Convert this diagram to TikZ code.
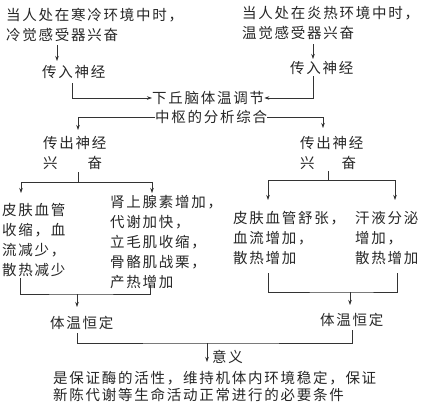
\documentclass[tikz,border=0pt]{standalone}
\usepackage{fontspec}
\newfontfamily\cjk[LetterSpace=12]{Noto Sans CJK SC}
\usetikzlibrary{arrows.meta}
\begin{document}
\begin{tikzpicture}[x=1pt,y=-1pt,
  txt/.style={inner sep=0pt, font=\cjk\fontsize{14.5}{20}\selectfont, text=black!85, align=left},
  ln/.style={draw=black!80, line width=0.6pt},
  arr/.style={ln, -{Stealth[length=5pt,width=3.5pt]}}]
\useasboundingbox (0,0) rectangle (423,402);
% texts
\node[txt,anchor=north west] (coldsrc) at (6,8) {当人处在寒冷环境中时，\\冷觉感受器兴奋};
\node[txt,anchor=north west] (hotsrc) at (242,6) {当人处在炎热环境中时，\\温觉感受器兴奋};
\node[txt,anchor=west] (inL) at (42,72) {传入神经};
\node[txt,anchor=west] (inR) at (290,68) {传入神经};
\node[txt,anchor=west] (hyp1) at (152,98) {下丘脑体温调节};
\node[txt,anchor=west] (hyp2) at (155,117) {中枢的分析综合};
\node[txt,anchor=north west] (outL) at (43,136) {传出神经\\兴\hspace{30pt}奋};
\node[txt,anchor=north west] (outR) at (300,136) {传出神经\\兴\hspace{27pt}奋};
\node[txt,anchor=north west] (boxL) at (2,203) {皮肤血管\\收缩，血\\流减少，\\散热减少};
\node[txt,anchor=north west] (boxM) at (110,195) {肾上腺素增加，\\代谢加快，\\立毛肌收缩，\\骨骼肌战栗，\\产热增加};
\node[txt,anchor=north west] (boxR1) at (233,211) {皮肤血管舒张，\\血流增加，\\散热增加};
\node[txt,anchor=north west] (boxR2) at (355,211) {汗液分泌\\增加，\\散热增加};
\node[txt,anchor=west] (constL) at (50,323) {体温恒定};
\node[txt,anchor=west] (constR) at (320,320) {体温恒定};
\node[txt,anchor=west] (mean) at (212,357) {意义};
\node[txt,anchor=north west,font=\cjk\fontsize{14.5}{17.5}\selectfont] (concl) at (53,371) {是保证酶的活性，维持机体内环境稳定，保证\\新陈代谢等生命活动正常进行的必要条件};
% coordinates
\coordinate (c1) at (57,45);   \coordinate (c1e) at (57,61);
\coordinate (h1) at (313,44);  \coordinate (h1e) at (313,59);
\coordinate (c2) at (72,83);   \coordinate (h2) at (313,76);
\coordinate (s1) at (78,117);  \coordinate (s1e) at (78,130);
\coordinate (s2) at (323,117); \coordinate (s2e) at (323,128);
\coordinate (tL) at (78,172);  \coordinate (tR) at (328,171);
\coordinate (bLa) at (21,182); \coordinate (bLb) at (152,182);
\coordinate (bRa) at (268,180);\coordinate (bRb) at (395,180);
\coordinate (uL1) at (20,278); \coordinate (uL2) at (150,285);
\coordinate (uR1) at (268,273);\coordinate (uR2) at (397,273);
\coordinate (aL) at (77,294);  \coordinate (aR) at (350,292);
\coordinate (vL) at (77,333);  \coordinate (vR) at (352,330);
\coordinate (vm) at (207,343);
% connectors
\draw[arr] (c1) -- (c1e);
\draw[arr] (h1) -- (h1e);
\draw[arr] (c2) |- (hyp1.west);
\draw[arr] (h2) |- (hyp1.east);
\draw[arr] (hyp2.west) -| (s1e);
\draw[arr] (hyp2.east) -| (s2e);
\draw[ln] (tL) -- (tL |- bLa);
\draw[arr] (bLa |- bLa) -- (bLa) -- (21,193);
\draw[ln] (bLa) -- (bLb);
\draw[arr] (bLb) -- (152,193);
\draw[ln] (tR) -- (tR |- bRa);
\draw[ln] (bRa) -- (bRb);
\draw[arr] (bRa) -- (268,200);
\draw[arr] (bRb) -- (395,200);
\draw[ln] (uL1) |- (aL) -| (uL2);
\draw[arr] (aL) -- (77,307);
\draw[ln] (uR1) |- (aR) -| (uR2);
\draw[arr] (aR) -- (350,305);
\draw[ln] (vL) |- (vm) -| (vR);
\draw[arr] (vm) -- (207,362);
\end{tikzpicture}
\end{document}
